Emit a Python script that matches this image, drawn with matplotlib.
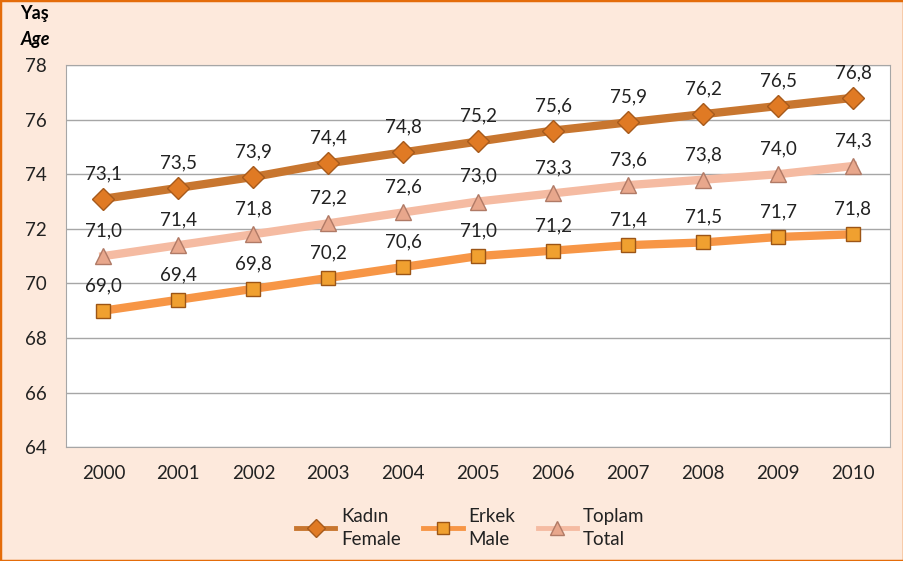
import matplotlib as mpl
mpl.use('Agg')
import matplotlib.pyplot as plt
import matplotlib.patches as mpatches

years = ['2000', '2001', '2002', '2003', '2004', '2005', '2006', '2007', '2008', '2009', '2010']
female = [73.1, 73.5, 73.9, 74.4, 74.8, 75.2, 75.6, 75.9, 76.2, 76.5, 76.8]
male = [69.0, 69.4, 69.8, 70.2, 70.6, 71.0, 71.2, 71.4, 71.5, 71.7, 71.8]
total = [71.0, 71.4, 71.8, 72.2, 72.6, 73.0, 73.3, 73.6, 73.8, 74.0, 74.3]
yticks = [64, 66, 68, 70, 72, 74, 76, 78]

plt.rcParams['font.family'] = ['Lato', 'DejaVu Sans']

bg = '#FDE9DC'
fig = plt.figure(figsize=(9.04, 5.61), dpi=100, facecolor=bg)
fig.patches.append(mpatches.Rectangle((0, 0), 1, 1, transform=fig.transFigure,
                                      fill=False, edgecolor='#E46C0A', linewidth=2.5))
ax = fig.add_axes([0.073, 0.203, 0.912, 0.681])
ax.set_facecolor('white')

x = list(range(len(years)))
series = [
    (female, 'Kadın\nFemale', '#C8762F', 'D', '#E07A24', '#A65A1C', 11),
    (male, 'Erkek\nMale', '#F79646', 's', '#F0A030', '#9C5516', 9.5),
    (total, 'Toplam\nTotal', '#F5BBA2', '^', '#E8A78C', '#B07A66', 12),
]
for vals, lab, lc, mk, mfc, mec, ms in series:
    ax.plot(x, vals, color=lc, lw=6, marker=mk, markersize=ms,
            markerfacecolor=mfc, markeredgecolor=mec, markeredgewidth=1, label=lab, zorder=3)
    for xi, v in zip(x, vals):
        ax.annotate('{:.1f}'.format(v).replace('.', ','), (xi, v), xytext=(0, 12),
                    textcoords='offset points', ha='center', va='bottom',
                    fontsize=13.5, color='#222222')

ax.set_xlim(-0.5, 10.5)
ax.set_ylim(64, 78)
ax.set_xticks(x)
ax.set_xticklabels(years)
ax.set_yticks(yticks)
ax.tick_params(axis='both', length=0, labelsize=13.5, colors='#222222')
ax.tick_params(axis='x', pad=13)
ax.tick_params(axis='y', pad=14)
ax.grid(axis='y', color='#A6A6A6', lw=1)
ax.set_axisbelow(True)
for s in ax.spines.values():
    s.set_color('#A6A6A6')

fig.text(35 / 904, 1 - 14 / 561, 'Yaş', ha='center', va='center', fontsize=13, fontweight='bold')
fig.text(35 / 904, 1 - 40 / 561, 'Age', ha='center', va='center', fontsize=13,
         fontweight='bold', fontstyle='italic')

leg = fig.legend(loc='center', bbox_to_anchor=(0.52, 1 - 528 / 561), ncol=3, frameon=False,
                 fontsize=13.5, handlelength=2.1, columnspacing=1.2, handletextpad=0.3,
                 markerscale=0.85)
for t in leg.get_texts():
    t.set_linespacing(1.45)
    t.set_color('#222222')
for h in leg.legend_handles:
    h.set_linewidth(3.5)

plt.savefig('out.png', facecolor=fig.get_facecolor())
